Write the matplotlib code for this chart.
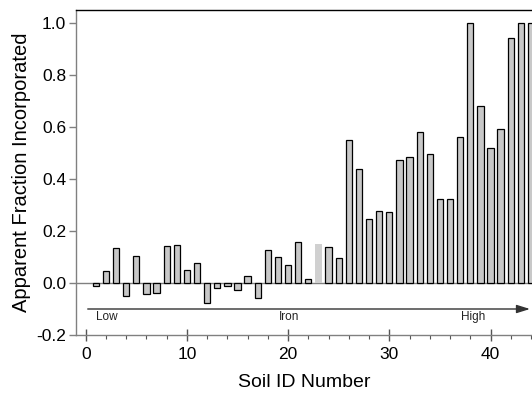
import matplotlib
matplotlib.use("Agg")
import matplotlib.pyplot as plt
import numpy as np
from matplotlib.ticker import MultipleLocator

plt.rcParams['font.family'] = ['Liberation Sans', 'DejaVu Sans']

soil_ids = list(range(1, 45))
fractions = [-0.010, 0.045, 0.135, -0.049, 0.105, -0.041, -0.037, 0.143, 0.147, 0.049,
             0.078, -0.077, -0.019, -0.013, -0.026, 0.028, -0.056, 0.128, 0.100, 0.069,
             0.158, 0.015, 0.151, 0.140, 0.097, 0.549, 0.439, 0.246, 0.277, 0.275,
             0.474, 0.485, 0.580, 0.496, 0.322, 0.323, 0.563, 1.000, 0.679, 0.521,
             0.591, 0.944, 1.000, 1.000]
highlight_id = 23
yticks = [-0.2, 0.0, 0.2, 0.4, 0.6, 0.8, 1.0]
gradient_labels = ["Low", "Iron", "High"]

fig = plt.figure(figsize=(5.32, 3.93), dpi=100)
ax = fig.add_axes([76/532, 1-335/393, 1-76/532, (335-10)/393])

colors = ['#d0d0d0' if s == highlight_id else '#c8c8c8' for s in soil_ids]
edges = ['none' if s == highlight_id else 'black' for s in soil_ids]
ax.bar(soil_ids, fractions, width=0.62, color=colors, edgecolor=edges, linewidth=0.9, zorder=3)

ax.axhline(0, color='#808080', lw=1.0, zorder=2)

ax.set_xlim(-0.96, 44.1)
ax.set_ylim(-0.2, 1.05)
ax.set_yticks(yticks)
ax.set_yticklabels([f"{v:.1f}" for v in yticks])
ax.xaxis.set_major_locator(MultipleLocator(10))
ax.xaxis.set_minor_locator(MultipleLocator(2))

for side in ['left', 'bottom']:
    ax.spines[side].set_color('#808080')
    ax.spines[side].set_linewidth(1.0)
ax.spines['top'].set_color('black')
ax.spines['top'].set_linewidth(1.0)
ax.spines['right'].set_visible(False)

ax.tick_params(axis='x', which='major', direction='inout', length=8, width=1.0, color='#555555', labelsize=12.5, pad=4.5)
ax.tick_params(axis='x', which='minor', direction='out', length=3, width=0.8, color='#555555')
ax.tick_params(axis='y', which='major', direction='out', length=5, width=1.0, color='#808080', labelsize=12.5, pad=2)

# Iron gradient arrow
ax.annotate('', xy=(43.9, -0.1), xytext=(0.2, -0.1),
            arrowprops=dict(arrowstyle='-|>,head_length=0.8,head_width=0.25', color='#333333', lw=1.0,
                            shrinkA=0, shrinkB=0), zorder=4)
ax.text(1.0, -0.132, gradient_labels[0], fontsize=8.5, ha='left', va='center', color='#222222')
ax.text(20.1, -0.132, gradient_labels[1], fontsize=8.5, ha='center', va='center', color='#222222')
ax.text(38.3, -0.132, gradient_labels[2], fontsize=8.5, ha='center', va='center', color='#222222')

ax.set_xlabel("Soil ID Number", fontsize=14, labelpad=9)
ax.set_ylabel("Apparent Fraction Incorporated", fontsize=14.5, labelpad=4)

fig.savefig("out.png", dpi=100)
